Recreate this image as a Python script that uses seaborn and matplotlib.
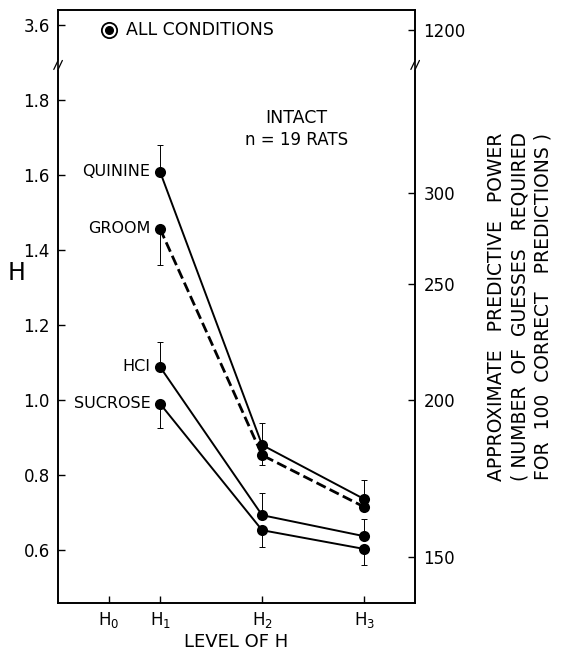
import numpy as np
import pandas as pd
import seaborn as sns
import matplotlib.pyplot as plt

# level of H (x categories) and where they sit on the numeric x scale
levels = ['H$_0$', 'H$_1$', 'H$_2$', 'H$_3$']
level_x = [0, 1, 3, 5]

# mean H per condition at H1, H2, H3
conditions = ['QUININE', 'GROOM', 'HCI', 'SUCROSE']
quinine = [1.608, 0.880, 0.736]
groom = [1.456, 0.853, 0.715]
hcl = [1.088, 0.693, 0.637]
sucrose = [0.990, 0.653, 0.603]

# error bars (one-sided in the original figure)
quinine_se = [0.072, 0.059, 0.051]   # up
groom_se = [0.096, 0.026, 0.0]       # down
hcl_se = [0.067, 0.059, 0.046]       # up
sucrose_se = [0.065, 0.045, 0.043]   # down

all_conditions = 3.585  # H0, all conditions

left_ticks = [0.6, 0.8, 1.0, 1.2, 1.4, 1.6, 1.8, 3.6]
# predictive power scale, with the H value each tick sits at
right_ticks = [150, 200, 250, 300, 1200]
right_ticks_h = [0.581, 1.0, 1.309, 1.552, 3.585]


def shown(h):
    # axis is broken between 1.8 and 3.6
    h = np.asarray(h, dtype=float)
    return np.where(h > 2.5, h - 1.6, h)


rows = []
for name, vals, se, side in [('QUININE', quinine, quinine_se, 1),
                             ('GROOM', groom, groom_se, -1),
                             ('HCI', hcl, hcl_se, 1),
                             ('SUCROSE', sucrose, sucrose_se, -1)]:
    for lx, v, e in zip(level_x[1:], vals, se):
        rows.append({'condition': name, 'x': lx, 'H': v, 'se': e, 'side': side})
df = pd.DataFrame(rows)
df['y'] = shown(df['H'])

sns.set_style('ticks')
plt.rcParams['font.family'] = ['DejaVu Sans']
plt.rcParams['mathtext.default'] = 'regular'
for k in ['text.color', 'axes.labelcolor', 'xtick.color', 'ytick.color']:
    plt.rcParams[k] = 'black'

fig = plt.figure(figsize=(5.75, 6.53), dpi=100)
ax = fig.add_axes([0.101, 0.0766, 0.621, 0.9084])

for name in conditions:
    d = df[df.condition == name]
    ls = '--' if name == 'GROOM' else '-'
    lw = 2.0 if name == 'GROOM' else 1.4
    sns.lineplot(data=d, x='x', y='y', ax=ax, color='black', linestyle=ls, linewidth=lw,
                 marker='o', markersize=8, markeredgewidth=0, legend=False, estimator=None,
                 zorder=3)
    lower = np.where(d.side < 0, d.se, 0)
    upper = np.where(d.side > 0, d.se, 0)
    keep = (d.se > 0).values
    ax.errorbar(d.x[keep], d.y[keep], yerr=[lower[keep], upper[keep]], fmt='none',
                ecolor='black', elinewidth=0.7, capsize=2, capthick=0.7, zorder=2)
    first = d.iloc[0]
    ax.annotate(name, (first.x, first.y), xytext=(-7, 0), textcoords='offset points',
                ha='right', va='center', fontsize=11.5)

# all conditions point at H0
y0 = float(shown(all_conditions))
ax.plot(level_x[0], y0, marker='o', markersize=11, markerfacecolor='white',
        markeredgecolor='black', markeredgewidth=1.3, linestyle='none', zorder=3)
ax.plot(level_x[0], y0, marker='o', markersize=5.5, color='black', linestyle='none', zorder=4)
ax.annotate('ALL CONDITIONS', (level_x[0], y0), xytext=(12, 0), textcoords='offset points',
            ha='left', va='center', fontsize=12.5)

ax.text(3.67, 1.752, 'INTACT', ha='center', va='center', fontsize=12.5)
ax.text(3.67, 1.693, 'n = 19 RATS', ha='center', va='center', fontsize=12)

ax.set_xlim(-1, 6)
ax.set_ylim(0.459, 2.04)
ax.set_xticks(level_x)
ax.set_xticklabels(levels, fontsize=12)
ax.set_yticks(shown(left_ticks))
ax.set_yticklabels([f'{t:.1f}' for t in left_ticks], fontsize=12)
ax.tick_params(axis='x', direction='in', length=5, width=1, pad=5)
ax.tick_params(axis='y', direction='in', length=5, width=1, pad=6)
ax.set_xlabel('LEVEL OF H', fontsize=13, labelpad=2)
ax.set_ylabel('H', fontsize=17, rotation=0, va='center', ha='center')
ax.yaxis.set_label_coords(-0.115, 0.556)

ax2 = ax.twinx()
ax2.set_ylim(ax.get_ylim())
ax2.set_yticks(shown(right_ticks_h))
ax2.set_yticklabels([str(t) for t in right_ticks], fontsize=12)
ax2.tick_params(axis='y', direction='in', length=5, width=1, pad=6)
ax2.set_ylabel('APPROXIMATE   PREDICTIVE   POWER\n( NUMBER  OF  GUESSES   REQUIRED\nFOR  100  CORRECT   PREDICTIONS )',
               fontsize=13.5, linespacing=1.3)
ax2.yaxis.set_label_coords(1.2, 0.5)

for a in (ax, ax2):
    for s in a.spines.values():
        s.set_linewidth(1.2)
        s.set_color('black')

# break marks on both vertical spines
ybreak = 1.893
for xa in (0, 1):
    tr = ax.get_yaxis_transform()
    ax.plot([xa, xa], [ybreak - 0.008, ybreak + 0.008], color='white', linewidth=3,
            transform=tr, clip_on=False, zorder=5)
    for dx in (-0.006, 0.006):
        ax.plot([xa + dx - 0.006, xa + dx + 0.006], [ybreak - 0.012, ybreak + 0.012],
                color='black', linewidth=0.9, transform=tr, clip_on=False, zorder=6)

plt.savefig('out.png', dpi=100)
